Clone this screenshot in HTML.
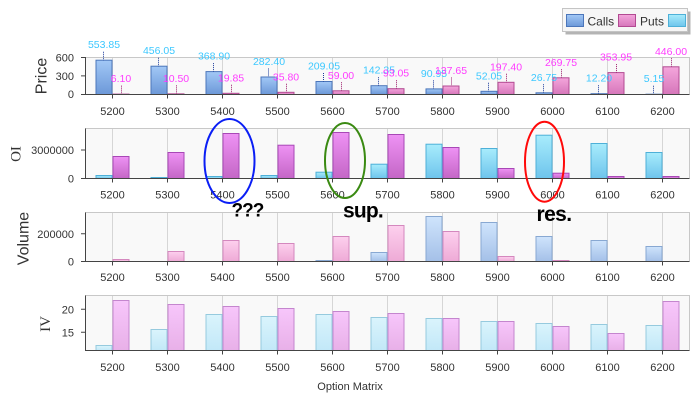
<!DOCTYPE html>
<html><head><meta charset="utf-8"><style>
html,body{margin:0;padding:0;background:#fff;}
svg{display:block;font-family:"Liberation Sans",sans-serif;}
</style></head><body>
<svg width="700" height="400" viewBox="0 0 700 400" xmlns="http://www.w3.org/2000/svg">
<defs>
<linearGradient id="pc" x1="0" y1="0" x2="0" y2="1"><stop offset="0" stop-color="#a2c8f6"/><stop offset="1" stop-color="#6c98d8"/></linearGradient>
<linearGradient id="pp" x1="0" y1="0" x2="0" y2="1"><stop offset="0" stop-color="#f4a6dc"/><stop offset="1" stop-color="#d676ba"/></linearGradient>
<linearGradient id="oc" x1="0" y1="0" x2="0" y2="1"><stop offset="0" stop-color="#a8ecfc"/><stop offset="1" stop-color="#6ec4ec"/></linearGradient>
<linearGradient id="op" x1="0" y1="0" x2="0" y2="1"><stop offset="0" stop-color="#ee92f4"/><stop offset="1" stop-color="#c466c6"/></linearGradient>
<linearGradient id="vc" x1="0" y1="0" x2="0" y2="1"><stop offset="0" stop-color="#cfe4fc"/><stop offset="1" stop-color="#a4c0e8"/></linearGradient>
<linearGradient id="vp" x1="0" y1="0" x2="0" y2="1"><stop offset="0" stop-color="#fdd0ee"/><stop offset="1" stop-color="#eeaad6"/></linearGradient>
<linearGradient id="ic" x1="0" y1="0" x2="0" y2="1"><stop offset="0" stop-color="#daf4fc"/><stop offset="1" stop-color="#c2e8f8"/></linearGradient>
<linearGradient id="ip" x1="0" y1="0" x2="0" y2="1"><stop offset="0" stop-color="#f7c6fb"/><stop offset="1" stop-color="#e8b0e8"/></linearGradient>
</defs>

<!-- Plot backgrounds -->
<g fill="#f9f9f9" stroke="none">
<rect x="85" y="57" width="604" height="37.5"/>
<rect x="85" y="128.5" width="604" height="50"/>
<rect x="85" y="212.5" width="604" height="49"/>
<rect x="85" y="295.5" width="604" height="55"/>
</g>
<!-- vertical grid lines -->
<g stroke="#d6d6d6" stroke-width="1">
<path d="M112.5 57V94.5M167.5 57V94.5M222.5 57V94.5M277.5 57V94.5M332.5 57V94.5M387.5 57V94.5M442.5 57V94.5M497.5 57V94.5M552.5 57V94.5M607.5 57V94.5M662.5 57V94.5"/>
<path d="M112.5 128.5V178.5M167.5 128.5V178.5M222.5 128.5V178.5M277.5 128.5V178.5M332.5 128.5V178.5M387.5 128.5V178.5M442.5 128.5V178.5M497.5 128.5V178.5M552.5 128.5V178.5M607.5 128.5V178.5M662.5 128.5V178.5"/>
<path d="M112.5 212.5V261.5M167.5 212.5V261.5M222.5 212.5V261.5M277.5 212.5V261.5M332.5 212.5V261.5M387.5 212.5V261.5M442.5 212.5V261.5M497.5 212.5V261.5M552.5 212.5V261.5M607.5 212.5V261.5M662.5 212.5V261.5"/>
<path d="M112.5 295.5V350.5M167.5 295.5V350.5M222.5 295.5V350.5M277.5 295.5V350.5M332.5 295.5V350.5M387.5 295.5V350.5M442.5 295.5V350.5M497.5 295.5V350.5M552.5 295.5V350.5M607.5 295.5V350.5M662.5 295.5V350.5"/>
</g>
<!-- top/right borders -->
<g stroke="#c8c8c8" stroke-width="1" fill="none">
<path d="M85 57.5H689.5V94.5"/>
<path d="M85 128.5H689.5V178.5"/>
<path d="M85 212.5H689.5V261.5"/>
<path d="M85 295.5H689.5V350.5"/>
</g>

<!-- PRICE bars -->
<g fill="url(#pc)" stroke="#4c76ba" stroke-width="1">
<rect x="96" y="60.2" width="16" height="34.3"/>
<rect x="151" y="66.2" width="16" height="28.3"/>
<rect x="206" y="71.6" width="16" height="22.9"/>
<rect x="261" y="77" width="16" height="17.5"/>
<rect x="316" y="81.5" width="16" height="13"/>
<rect x="371" y="85.7" width="16" height="8.8"/>
<rect x="426" y="88.9" width="16" height="5.6"/>
<rect x="481" y="91.3" width="16" height="3.2"/>
<rect x="536" y="92.8" width="16" height="1.7"/>
<rect x="591" y="93.7" width="16" height="0.8"/>
<rect x="646" y="94.2" width="16" height="0.3"/>
</g>
<g fill="url(#pp)" stroke="#b24a92" stroke-width="1">
<rect x="113" y="94.1" width="16" height="0.4"/>
<rect x="168" y="93.85" width="16" height="0.65"/>
<rect x="223" y="93.3" width="16" height="1.2"/>
<rect x="278" y="92.3" width="16" height="2.2"/>
<rect x="333" y="90.8" width="16" height="3.7"/>
<rect x="388" y="88.7" width="16" height="5.8"/>
<rect x="443" y="86" width="16" height="8.5"/>
<rect x="498" y="82.3" width="16" height="12.2"/>
<rect x="553" y="77.8" width="16" height="16.7"/>
<rect x="608" y="72.6" width="16" height="21.9"/>
<rect x="663" y="66.8" width="16" height="27.7"/>
</g>
<!-- dotted leader lines -->
<g stroke="#1a3a9a" stroke-width="1" stroke-dasharray="1,1">
<path d="M103.5 51.7V60.2M158.5 57.7V66.2M213.5 63.1V71.6M268.5 68.5V77M323.5 73V81.5M378.5 77.2V85.7M433.5 80.4V88.9M488.5 82.8V91.3M543.5 84.3V92.8M598.5 85.2V93.7M653.5 85.7V94.2"/>
</g>
<g stroke="#9a1a6a" stroke-width="1" stroke-dasharray="1,1">
<path d="M121.5 85.6V94.1M176.5 85.35V93.85M231.5 84.8V93.3M286.5 83.8V92.3M341.5 82.3V90.8M396.5 80.2V88.7M451.5 77.5V86M506.5 73.8V82.3M561.5 69.3V77.8M616.5 64.1V72.6M671.5 58.3V66.8"/>
</g>
<g font-size="10.5" fill="#3cc8ff" text-anchor="middle">
<text x="104" y="48.2">553.85</text>
<text x="159" y="54.2">456.05</text>
<text x="214" y="59.6">368.90</text>
<text x="269" y="65">282.40</text>
<text x="324" y="69.5">209.05</text>
<text x="379" y="73.7">142.35</text>
<text x="434" y="76.9">90.95</text>
<text x="489" y="79.3">52.05</text>
<text x="544" y="80.8">26.75</text>
<text x="599" y="81.7">12.20</text>
<text x="654" y="82.2">5.15</text>
</g>
<g font-size="10.5" fill="#ff3cff" text-anchor="middle">
<text x="121" y="82.1">6.10</text>
<text x="176" y="81.85">10.50</text>
<text x="231" y="81.3">19.85</text>
<text x="286" y="80.3">35.80</text>
<text x="341" y="78.8">59.00</text>
<text x="396" y="76.7">93.05</text>
<text x="451" y="74">137.65</text>
<text x="506" y="70.3">197.40</text>
<text x="561" y="65.8">269.75</text>
<text x="616" y="60.6">353.95</text>
<text x="671" y="54.8">446.00</text>
</g>

<!-- OI bars base 178.5 -->
<g fill="url(#oc)" stroke="#4eb0d8" stroke-width="1">
<rect x="96" y="175.5" width="16" height="3"/>
<rect x="151" y="177.5" width="16" height="1"/>
<rect x="206" y="176.5" width="16" height="2"/>
<rect x="261" y="175.5" width="16" height="3"/>
<rect x="316" y="172.2" width="16" height="6.3"/>
<rect x="371" y="164.2" width="16" height="14.3"/>
<rect x="426" y="144.2" width="16" height="34.3"/>
<rect x="481" y="148.5" width="16" height="30"/>
<rect x="536" y="135.2" width="16" height="43.3"/>
<rect x="591" y="143.5" width="16" height="35"/>
<rect x="646" y="152.5" width="16" height="26"/>
</g>
<g fill="url(#op)" stroke="#a848b6" stroke-width="1">
<rect x="113" y="156.5" width="16" height="22"/>
<rect x="168" y="152.5" width="16" height="26"/>
<rect x="223" y="133.5" width="16" height="45"/>
<rect x="278" y="145.2" width="16" height="33.3"/>
<rect x="333" y="132.5" width="16" height="46"/>
<rect x="388" y="134.5" width="16" height="44"/>
<rect x="443" y="147.5" width="16" height="31"/>
<rect x="498" y="168.5" width="16" height="10"/>
<rect x="553" y="173.2" width="16" height="5.3"/>
<rect x="608" y="176.5" width="16" height="2"/>
<rect x="663" y="176.5" width="16" height="2"/>
</g>

<!-- Volume bars base 261.5 -->
<g fill="url(#vc)" stroke="#88a8d2" stroke-width="1">
<rect x="316" y="260.5" width="16" height="1"/>
<rect x="371" y="252.5" width="16" height="9"/>
<rect x="426" y="216.5" width="16" height="45"/>
<rect x="481" y="222.5" width="16" height="39"/>
<rect x="536" y="236.5" width="16" height="25"/>
<rect x="591" y="240.5" width="16" height="21"/>
<rect x="646" y="246.5" width="16" height="15"/>
</g>
<g fill="url(#vp)" stroke="#d488be" stroke-width="1">
<rect x="113" y="259.5" width="16" height="2"/>
<rect x="168" y="251.5" width="16" height="10"/>
<rect x="223" y="240.5" width="16" height="21"/>
<rect x="278" y="243.5" width="16" height="18"/>
<rect x="333" y="236.5" width="16" height="25"/>
<rect x="388" y="225.5" width="16" height="36"/>
<rect x="443" y="231.5" width="16" height="30"/>
<rect x="498" y="256.5" width="16" height="5"/>
<rect x="553" y="260.5" width="16" height="1"/>
</g>

<!-- IV bars base 350.5 -->
<g fill="url(#ic)" stroke="#96cade" stroke-width="1">
<rect x="96" y="345.5" width="16" height="5"/>
<rect x="151" y="329.5" width="16" height="21"/>
<rect x="206" y="314.5" width="16" height="36"/>
<rect x="261" y="316.5" width="16" height="34"/>
<rect x="316" y="314.5" width="16" height="36"/>
<rect x="371" y="317.5" width="16" height="33"/>
<rect x="426" y="318.5" width="16" height="32"/>
<rect x="481" y="321.5" width="16" height="29"/>
<rect x="536" y="323.5" width="16" height="27"/>
<rect x="591" y="324.5" width="16" height="26"/>
<rect x="646" y="325.5" width="16" height="25"/>
</g>
<g fill="url(#ip)" stroke="#c486ce" stroke-width="1">
<rect x="113" y="300.5" width="16" height="50"/>
<rect x="168" y="304.5" width="16" height="46"/>
<rect x="223" y="306.5" width="16" height="44"/>
<rect x="278" y="308.5" width="16" height="42"/>
<rect x="333" y="311.5" width="16" height="39"/>
<rect x="388" y="313.5" width="16" height="37"/>
<rect x="443" y="318.5" width="16" height="32"/>
<rect x="498" y="321.5" width="16" height="29"/>
<rect x="553" y="326.5" width="16" height="24"/>
<rect x="608" y="333.5" width="16" height="17"/>
<rect x="663" y="301.5" width="16" height="49"/>
</g>

<!-- Axes -->
<g stroke="#444" stroke-width="1" fill="none">
<path d="M85.5 57V94.5H689.5"/>
<path d="M85.5 128.5V178.5H689.5"/>
<path d="M85.5 212.5V261.5H689.5"/>
<path d="M85.5 295.5V350.5H689.5"/>
<!-- y ticks -->
<path d="M81 57.5H85M81 75.9H85M81 94.5H85"/>
<path d="M81 150H85M81 178.5H85"/>
<path d="M81 233.8H85M81 261.5H85"/>
<path d="M81 309.3H85M81 332.3H85"/>
<!-- x ticks -->
<path d="M112.5 94.5v4M167.5 94.5v4M222.5 94.5v4M277.5 94.5v4M332.5 94.5v4M387.5 94.5v4M442.5 94.5v4M497.5 94.5v4M552.5 94.5v4M607.5 94.5v4M662.5 94.5v4"/>
<path d="M112.5 178.5v4M167.5 178.5v4M222.5 178.5v4M277.5 178.5v4M332.5 178.5v4M387.5 178.5v4M442.5 178.5v4M497.5 178.5v4M552.5 178.5v4M607.5 178.5v4M662.5 178.5v4"/>
<path d="M112.5 261.5v4M167.5 261.5v4M222.5 261.5v4M277.5 261.5v4M332.5 261.5v4M387.5 261.5v4M442.5 261.5v4M497.5 261.5v4M552.5 261.5v4M607.5 261.5v4M662.5 261.5v4"/>
<path d="M112.5 350.5v4M167.5 350.5v4M222.5 350.5v4M277.5 350.5v4M332.5 350.5v4M387.5 350.5v4M442.5 350.5v4M497.5 350.5v4M552.5 350.5v4M607.5 350.5v4M662.5 350.5v4"/>
</g>

<!-- Y tick labels -->
<g font-size="11" fill="#333" text-anchor="end">
<text x="74" y="61.5">600</text>
<text x="74" y="80">300</text>
<text x="74" y="98">0</text>
<text x="74" y="154">3000000</text>
<text x="74" y="182.5">0</text>
<text x="74" y="237.8">200000</text>
<text x="74" y="265.5">0</text>
<text x="74" y="313.3">20</text>
<text x="74" y="336.3">15</text>
</g>

<!-- X tick labels -->
<g font-size="11" fill="#333" text-anchor="middle">
<text y="115"><tspan x="112.5">5200</tspan><tspan x="167.5">5300</tspan><tspan x="222.5">5400</tspan><tspan x="277.5">5500</tspan><tspan x="332.5">5600</tspan><tspan x="387.5">5700</tspan><tspan x="442.5">5800</tspan><tspan x="497.5">5900</tspan><tspan x="552.5">6000</tspan><tspan x="607.5">6100</tspan><tspan x="662.5">6200</tspan></text>
<text y="198.5"><tspan x="112.5">5200</tspan><tspan x="167.5">5300</tspan><tspan x="222.5">5400</tspan><tspan x="277.5">5500</tspan><tspan x="332.5">5600</tspan><tspan x="387.5">5700</tspan><tspan x="442.5">5800</tspan><tspan x="497.5">5900</tspan><tspan x="552.5">6000</tspan><tspan x="607.5">6100</tspan><tspan x="662.5">6200</tspan></text>
<text y="281"><tspan x="112.5">5200</tspan><tspan x="167.5">5300</tspan><tspan x="222.5">5400</tspan><tspan x="277.5">5500</tspan><tspan x="332.5">5600</tspan><tspan x="387.5">5700</tspan><tspan x="442.5">5800</tspan><tspan x="497.5">5900</tspan><tspan x="552.5">6000</tspan><tspan x="607.5">6100</tspan><tspan x="662.5">6200</tspan></text>
<text y="371"><tspan x="112.5">5200</tspan><tspan x="167.5">5300</tspan><tspan x="222.5">5400</tspan><tspan x="277.5">5500</tspan><tspan x="332.5">5600</tspan><tspan x="387.5">5700</tspan><tspan x="442.5">5800</tspan><tspan x="497.5">5900</tspan><tspan x="552.5">6000</tspan><tspan x="607.5">6100</tspan><tspan x="662.5">6200</tspan></text>
<text x="350" y="390">Option Matrix</text>
</g>

<!-- Axis titles -->
<g fill="#333" text-anchor="middle">
<text transform="translate(46.5,76) rotate(-90)" font-size="16">Price</text>
<text transform="translate(20.5,154) rotate(-90)" font-size="15" font-family="Liberation Serif, serif">OI</text>
<text transform="translate(28.5,238.5) rotate(-90)" font-size="16">Volume</text>
<text transform="translate(50,324) rotate(-90)" font-size="15" font-family="Liberation Serif, serif">IV</text>
</g>

<!-- Legend -->
<rect x="565.5" y="11.5" width="125" height="23" fill="#b4b4b4"/>
<rect x="562.5" y="8.5" width="125" height="23" fill="#f6f6f6" stroke="#c4c4c4"/>
<rect x="566.5" y="14.5" width="17" height="12" fill="url(#pc)" stroke="#4c76ba"/>
<rect x="618.5" y="14.5" width="17" height="12" fill="url(#pp)" stroke="#b24a92"/>
<rect x="668.5" y="14.5" width="17" height="12" fill="url(#oc)" stroke="#4eb0d8"/>
<g font-size="12" fill="#333">
<text x="587.5" y="25.5">Calls</text>
<text x="640" y="25.5">Puts</text>
</g>

<!-- Annotations -->
<g fill="none" stroke-width="2">
<ellipse cx="229.5" cy="161" rx="25" ry="42" stroke="#0a1ef5"/>
<ellipse cx="345" cy="160.5" rx="20" ry="37.5" stroke="#3a8a12"/>
<ellipse cx="544.5" cy="161.7" rx="19.5" ry="40" stroke="#ff0a0a"/>
</g>
<g font-weight="bold" fill="#000">
<text x="231.5" y="216.7" font-size="19" letter-spacing="-1">???</text>
<text x="343" y="217.3" font-size="21" letter-spacing="-0.8">sup.</text>
<text x="536.5" y="221" font-size="21" letter-spacing="-0.6">res.</text>
</g>
</svg>
</body></html>
